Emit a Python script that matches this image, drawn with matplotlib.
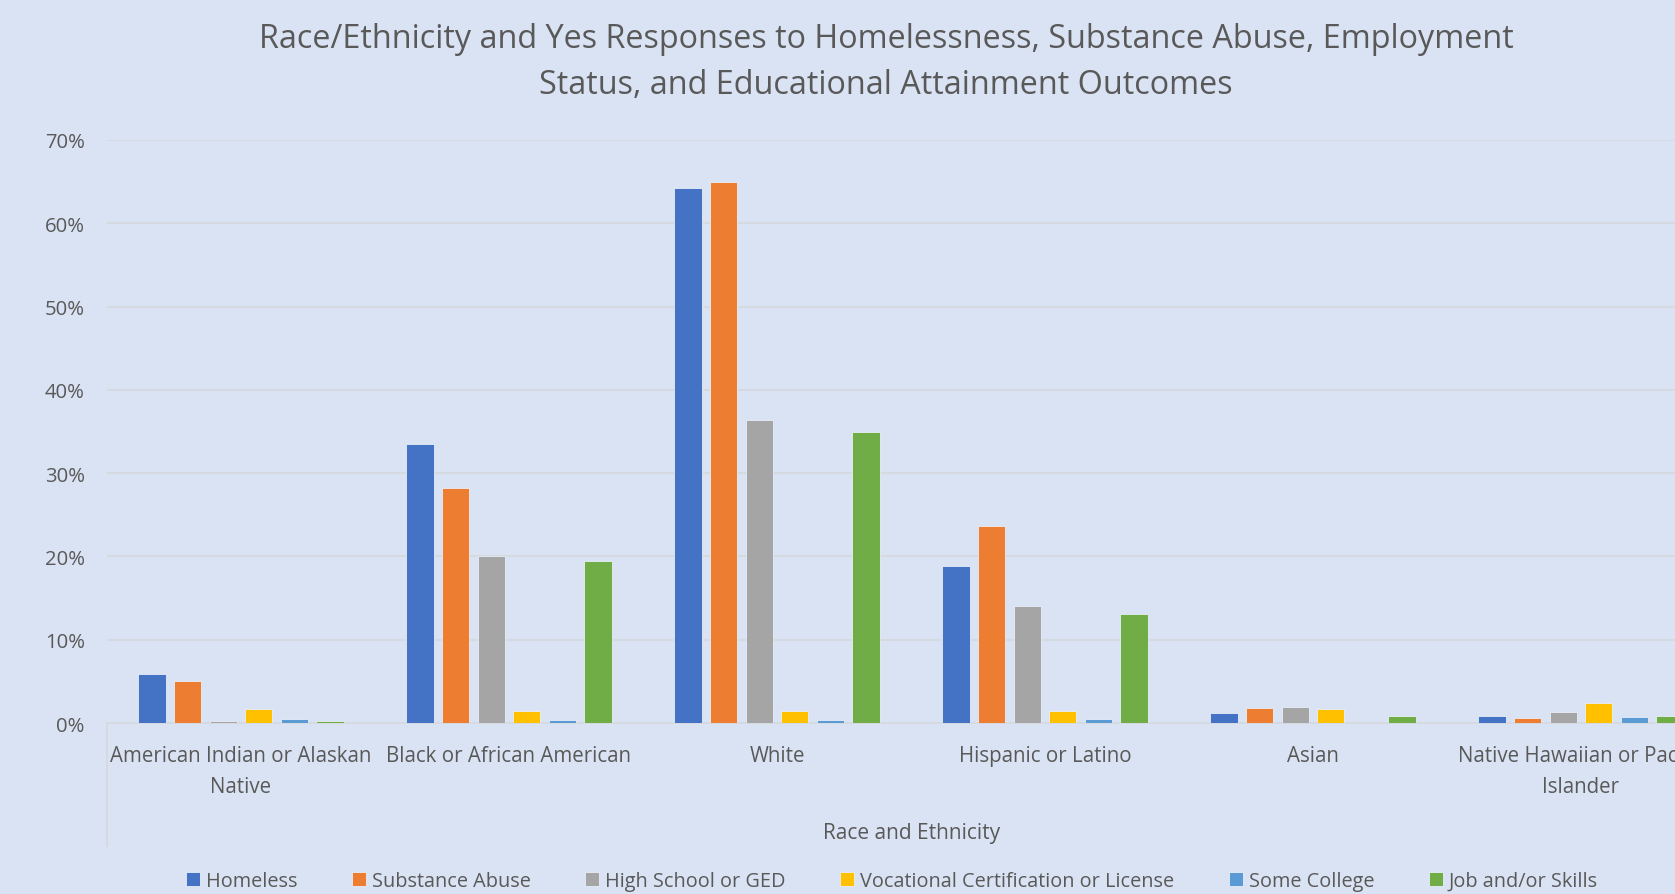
import matplotlib
matplotlib.use("Agg")
import matplotlib.pyplot as plt
from matplotlib.ticker import PercentFormatter
import numpy as np

categories = ["American Indian or Alaskan\nNative", "Black or African American", "White",
              "Hispanic or Latino", "Asian", "Native Hawaiian or Pacific\nIslander"]
series_names = ["Homeless", "Substance Abuse", "High School or GED",
                "Vocational Certification or License", "Some College", "Job and/or Skills"]
homeless = [5.9, 33.5, 64.2, 18.8, 1.2, 0.8]
substance_abuse = [5.0, 28.2, 64.9, 23.7, 1.8, 0.64]
high_school = [0.2, 20.0, 36.4, 14.0, 1.93, 1.37]
vocational = [1.7, 1.5, 1.5, 1.5, 1.69, 2.37]
some_college = [0.5, 0.4, 0.4, 0.5, 0.0, 0.72]
job_skills = [0.2, 19.5, 35.0, 13.1, 0.88, 0.88]
series = [homeless, substance_abuse, high_school, vocational, some_college, job_skills]
colors = ["#4472C4", "#ED7D31", "#A5A5A5", "#FFC000", "#5B9BD5", "#70AD47"]

BG = "#DAE3F3"
TXT = "#595959"
GRID = "#D5D9E0"

plt.rcParams['font.family'] = ['Open Sans', 'DejaVu Sans']

W, H = 1675, 895
fig = plt.figure(figsize=(W / 100, H / 100), dpi=100, facecolor=BG)
left, right = 107, 1715
y0, y70 = 724, 141
ax = fig.add_axes([left / W, 1 - y0 / H, (right - left) / W, (y0 - y70) / H])
ax.set_facecolor(BG)

x = np.arange(len(categories))
step, bw = 0.133, 0.102
for i, (vals, name, c) in enumerate(zip(series, series_names, colors)):
    ax.bar(x + (i - 2.5) * step, np.array(vals) / 100.0, width=bw, color=c,
           edgecolor="#E8EEF8", linewidth=0.6, label=name, zorder=3)

ax.set_xlim(-0.5, len(categories) - 0.5)
ax.set_ylim(0, 0.7)
ax.set_yticks(np.arange(0, 0.71, 0.1))
ax.yaxis.set_major_formatter(PercentFormatter(1.0, decimals=0))
ax.grid(axis='y', color=GRID, linewidth=1.4, zorder=0)
for s in ["left", "right", "top"]:
    ax.spines[s].set_visible(False)
ax.spines["bottom"].set_color(GRID)
ax.spines["bottom"].set_linewidth(1.4)
ax.tick_params(axis='y', length=0, pad=16, labelsize=14.6, labelcolor=TXT)
ax.set_xticks(x)
ax.set_xticklabels(categories, linespacing=1.6)
ax.tick_params(axis='x', length=0, pad=16, labelsize=14.8, labelcolor=TXT)

# left category-axis boundary line
ax.plot([0, 0], [0, -(847 - 724) / (y0 - y70)], transform=ax.transAxes,
        color=GRID, linewidth=1.4, clip_on=False)

ax.set_xlabel("Race and Ethnicity", fontsize=15, color=TXT)
ax.xaxis.set_label_coords((912 - left) / (right - left), -(833 - y0) / (y0 - y70))
ax.xaxis.label.set_verticalalignment('center')

fig.text(886 / W, 1 - 62.5 / H,
         "Race/Ethnicity and Yes Responses to Homelessness, Substance Abuse, Employment\n"
         "Status, and Educational Attainment Outcomes",
         ha='center', va='center', fontsize=23.3, color=TXT, linespacing=1.5)

leg = fig.legend(loc='center', bbox_to_anchor=(892 / W, 1 - 882 / H), ncol=6,
                 frameon=False, fontsize=14.3, labelcolor=TXT, handlelength=0.7,
                 handleheight=0.7, handletextpad=0.3, columnspacing=2.75)

fig.savefig("out.png", dpi=100, facecolor=BG)
